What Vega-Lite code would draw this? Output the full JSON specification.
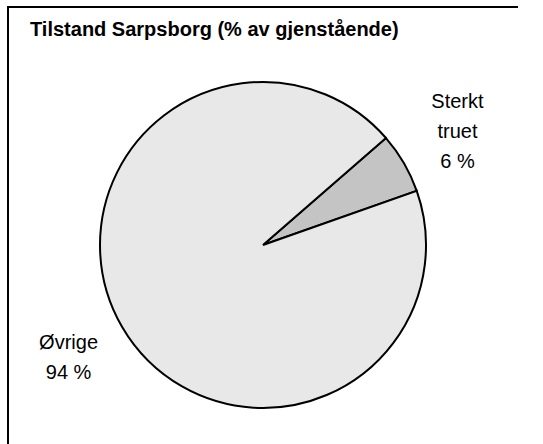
{
  "$schema": "https://vega.github.io/schema/vega-lite/v6.json",
  "autosize": "none",
  "width": 510,
  "height": 476,
  "padding": {"left": 8, "top": 7, "right": 0, "bottom": 0},
  "background": "white",
  "view": {"stroke": "black", "strokeWidth": 2, "strokeDash": [510, 986, 476]},
  "title": {"text": "Tilstand Sarpsborg (% av gjenstående)", "anchor": "start", "frame": "group", "offset": -31, "baseline": "alphabetic", "dx": 22, "dy": 18, "font": "Liberation Sans", "fontSize": 20, "fontWeight": "bold", "color": "black"},
  "data": {"values": [
    {"kategori": "Sterkt truet", "andel": 6, "label": "Sterkt\ntruet\n6 %"},
    {"kategori": "Øvrige", "andel": 94, "label": "Øvrige\n94 %"}
  ]},
  "encoding": {
    "theta": {"field": "andel", "type": "quantitative", "stack": true, "scale": {"range": [0.855, 7.138]}}
  },
  "layer": [
    {
      "mark": {"type": "arc", "outerRadius": 163, "stroke": "black", "strokeWidth": 2},
      "encoding": {
        "color": {"field": "kategori", "type": "nominal", "scale": {"domain": ["Sterkt truet", "Øvrige"], "range": ["#c4c4c4", "#e8e8e8"]}, "legend": null}
      }
    },
    {
      "mark": {"type": "text", "radius": 225, "font": "Liberation Sans", "fontSize": 20, "lineBreak": "\n", "lineHeight": 30, "color": "black", "dy": {"expr": "-15 * (length(split(datum.label, '\\n')) - 1)"}},
      "encoding": {
        "text": {"field": "label", "type": "nominal"},
        "detail": {"field": "kategori", "type": "nominal"}
      }
    }
  ]
}
